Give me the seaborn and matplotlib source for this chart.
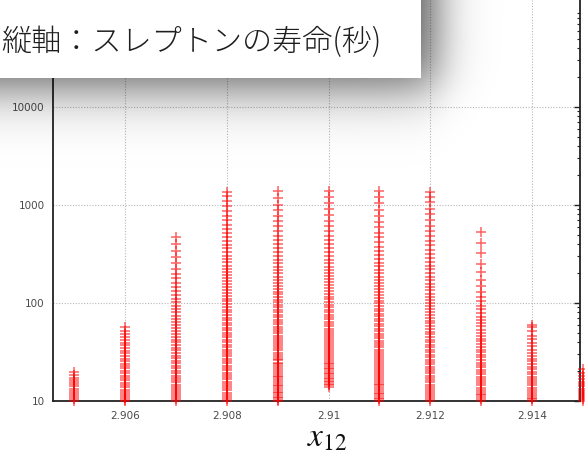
import numpy as np
import pandas as pd
import matplotlib
matplotlib.use("Agg")
import matplotlib.pyplot as plt
import seaborn as sns
from matplotlib.ticker import LogLocator, NullFormatter, FixedLocator, FixedFormatter

# ---- data ----
x_positions = [2.905, 2.906, 2.907, 2.908, 2.909, 2.910, 2.911, 2.912, 2.913, 2.914, 2.915]

c2905 = [10, 10.4, 10.9, 11.5, 12.0, 12.7, 13.3, 14.1, 14.8, 15.6, 16.5, 17.3, 18.4, 19.6]
c2906 = [10, 10.3, 10.8, 11.2, 11.9, 12.4, 13.1, 13.8, 14.6, 15.3, 16.2, 17.1, 18.0, 19.2,
         20.3, 21.5, 22.8, 24.0, 25.6, 27.1, 28.9, 30.6, 32.5, 34.8, 37.0, 39.4, 42.1,
         45.0, 48.3, 52.0, 56.5]
c2907 = [10, 10.4, 10.9, 11.4, 12.0, 12.6, 13.3, 14.0, 14.7, 15.5, 16.4, 17.2, 18.2, 19.3,
         20.4, 21.6, 22.9, 24.3, 25.8, 27.4, 29.0, 30.9, 32.8, 35.0, 37.3, 39.8, 42.4,
         45.3, 48.5, 52.0, 55.7, 59.8, 64.2, 69.0, 74.5, 80.3, 86.8, 94.0, 102, 111, 121,
         132, 145, 160, 178, 199, 224, 255, 292, 340, 400, 470]
c2908 = [10, 10.5, 11.0, 11.6, 12.2, 12.9, 13.5, 14.3, 15.0, 15.8, 16.7, 17.6, 18.5, 19.5,
         20.6, 21.7, 23.0, 24.2, 25.5, 27.0, 28.5, 30.1, 31.8, 33.5, 35.5, 37.5, 40.0,
         42.0, 44.5, 47.0, 50.0, 53.0, 56.0, 59.0, 63.0, 67.0, 71.0, 75.0, 80.0, 85.0,
         91.0, 97.0, 104, 111, 118, 126, 135, 145, 155, 166, 178, 192, 207, 222, 240,
         260, 282, 305, 330, 360, 392, 430, 470, 515, 570, 630, 700, 780, 870, 980,
         1100, 1230, 1350]
c2909 = [10, 10.3, 10.7, 11.1, 11.5, 12.0, 12.5, 13.0, 13.5, 14.1, 14.7, 15.3, 16.0, 16.7,
         17.4, 18.2, 19.0, 19.8, 20.7, 21.6, 22.6, 23.6, 24.7, 25.9, 27.1, 28.4, 29.8,
         31.2, 32.8, 34.4, 36.1, 37.9, 39.9, 42.0, 44.2, 46.5, 49.0, 51.6, 54.4, 57.4,
         60.6, 64.0, 67.7, 71.6, 75.8, 80.3, 85.1, 90.3, 95.9, 102, 108, 115, 123, 131,
         140, 150, 161, 173, 186, 200, 216, 234, 254, 276, 300, 328, 360, 396, 438, 486,
         540, 605, 680, 770, 880, 1010, 1180, 1400]
c2910 = [14.0, 14.5, 15.0, 15.5, 16.1, 16.7, 17.3, 18.0, 18.7, 19.4, 20.2, 21.0, 21.9, 22.8,
         23.7, 24.7, 25.8, 26.9, 28.1, 29.4, 30.7, 32.1, 33.6, 35.2, 36.9, 38.7, 40.6,
         42.6, 44.8, 47.1, 49.5, 52.1, 54.9, 57.9, 61.1, 64.5, 68.1, 72.0, 76.2, 80.7,
         85.5, 90.7, 96.3, 102, 109, 116, 124, 132, 141, 151, 162, 174, 187, 201, 217,
         235, 255, 277, 301, 330, 362, 398, 440, 488, 545, 610, 690, 785, 900, 1050,
         1220, 1400]
c2911 = [10, 10.4, 10.8, 11.2, 11.7, 12.2, 12.7, 13.2, 13.8, 14.4, 15.0, 15.7, 16.4, 17.1,
         17.9, 18.7, 19.6, 20.5, 21.5, 22.5, 23.6, 24.8, 26.0, 27.3, 28.7, 30.2, 31.8,
         33.5, 35.3, 37.2, 39.2, 41.4, 43.7, 46.2, 48.8, 51.6, 54.6, 57.8, 61.2, 64.9,
         68.8, 73.0, 77.5, 82.4, 87.6, 93.2, 99.3, 106, 113, 121, 130, 139, 149, 160,
         172, 186, 201, 218, 237, 258, 282, 310, 341, 377, 418, 466, 522, 590, 670, 770,
         890, 1040, 1220, 1400]
c2912 = [10, 10.5, 11.0, 11.5, 12.1, 12.7, 13.3, 14.0, 14.7, 15.5, 16.3, 17.2, 18.1, 19.1,
         20.1, 21.2, 22.4, 23.7, 25.0, 26.5, 28.0, 29.6, 31.4, 33.3, 35.3, 37.5, 39.8,
         42.3, 45.0, 47.9, 51.0, 54.4, 58.0, 62.0, 66.2, 70.8, 75.8, 81.2, 87.1, 93.5,
         100, 108, 116, 125, 135, 146, 158, 171, 186, 202, 220, 240, 263, 288, 317, 350,
         388, 432, 483, 543, 615, 700, 800, 920, 1070, 1200, 1350]
c2913 = [10, 10.4, 10.9, 11.4, 11.9, 12.5, 13.1, 13.7, 14.4, 15.2, 16.0, 16.8, 17.7, 18.7,
         19.7, 20.8, 22.0, 23.3, 24.7, 26.2, 27.8, 29.5, 31.4, 33.4, 35.6, 38.0, 40.6,
         43.4, 46.5, 49.9, 53.6, 57.7, 62.2, 67.2, 72.8, 79.0, 86.0, 94.0, 104, 116, 130,
         148, 172, 205, 250, 320, 410, 530]
c2914 = [10, 10.4, 10.8, 11.3, 11.8, 12.4, 13.0, 13.7, 14.4, 15.1, 15.9, 16.8, 17.7, 18.7,
         19.8, 21.0, 22.3, 23.7, 25.3, 27.0, 28.9, 31.0, 33.3, 36.0, 39.0, 42.5, 46.5,
         51.5, 57.0, 60.0]
c2915 = [10, 10.4, 10.9, 11.4, 12.0, 12.6, 13.3, 14.1, 14.9, 15.8, 16.9, 18.1, 19.5, 21.0]

columns = [c2905, c2906, c2907, c2908, c2909, c2910, c2911, c2912, c2913, c2914, c2915]

x_ticks = [2.906, 2.908, 2.910, 2.912, 2.914]
x_tick_labels = ["2.906", "2.908", "2.91", "2.912", "2.914"]
y_ticks = [10, 100, 1000, 10000]
y_tick_labels = ["10", "100", "1000", "10000"]

title_text = "縦軸：スレプトンの寿命(秒)"
xlabel_text = r"$x_{12}$"

df = pd.DataFrame({
    "x12": [xp for xp, col in zip(x_positions, columns) for _ in col],
    "lifetime": [v for col in columns for v in col],
})

# ---- figure ----
W, H = 585, 457
sns.set_style("white")
plt.rcParams["font.family"] = ["DejaVu Sans"]
plt.rcParams["mathtext.fontset"] = "stix"

fig = plt.figure(figsize=(W / 100, H / 100), dpi=100)
ax_left, ax_right, ax_bottom, ax_top = 53, 580, 401, 0
ax = fig.add_axes([ax_left / W, (H - ax_bottom) / H, (ax_right - ax_left) / W, (ax_bottom - ax_top) / H])

sns.scatterplot(data=df, x="x12", y="lifetime", ax=ax, marker="+", s=44,
                color="#ff0000", alpha=0.62, linewidth=1.1, legend=False,
                clip_on=False, zorder=3)

ax.set_yscale("log")
ax.set_xlim(2.904584, 2.914944)
ax.set_ylim(10, 10 ** (1 + 401 / 98))

ax.xaxis.set_major_locator(FixedLocator(x_ticks))
ax.xaxis.set_major_formatter(FixedFormatter(x_tick_labels))
ax.yaxis.set_major_locator(FixedLocator(y_ticks))
ax.yaxis.set_major_formatter(FixedFormatter(y_tick_labels))
ax.yaxis.set_minor_locator(LogLocator(base=10, subs=np.arange(2, 10), numticks=20))
ax.yaxis.set_minor_formatter(NullFormatter())

ax.tick_params(axis="both", which="major", direction="in", length=4, width=1.0,
               labelsize=7.5, labelcolor="#4a4a4a", color="#222222", pad=6)
ax.tick_params(axis="y", which="both", right=True, direction="in")
ax.tick_params(axis="y", which="minor", length=2.5, width=0.8, color="#222222")
ax.tick_params(axis="x", which="major", pad=7)

ax.grid(True, which="major", color="#b8b8b8", linestyle=(0, (1, 1.5)), linewidth=0.8)
ax.set_axisbelow(True)
for side in ["left", "bottom", "right"]:
    ax.spines[side].set_color("#222222")
    ax.spines[side].set_linewidth(1.3)
ax.spines["top"].set_visible(False)
ax.set_xlabel("")
ax.set_ylabel("")

# ---- overlay: x label, shadowed title box ----
ov = fig.add_axes([0, 0, 1, 1], zorder=10)
ov.set_xlim(0, W)
ov.set_ylim(H, 0)
ov.axis("off")
ov.patch.set_alpha(0)

yy, xx = np.mgrid[0:H, 0:W].astype(float)
def soft(v, edge, k):
    return 1.0 / (1.0 + np.exp((v - edge) / k))
shadow_alpha = 0.64 * soft(yy, 86, 16) * soft(xx, 436, 13)
shadow = np.zeros((H, W, 4))
shadow[..., 3] = shadow_alpha
ov.imshow(shadow, extent=(0, W, H, 0), interpolation="bilinear", zorder=1)
ov.add_patch(plt.Rectangle((0, 0), 421, 78, facecolor="white", edgecolor="none", zorder=2))
ov.text(1, 42, title_text, fontsize=21.7, family=["Noto Sans CJK JP", "DejaVu Sans"],
        fontweight="light", color="#1e1e1e", va="center", ha="left", zorder=3)

ov.text(327, 437, xlabel_text, fontsize=24, color="#111111", ha="center", va="center")

fig.savefig("out.png", dpi=100)
